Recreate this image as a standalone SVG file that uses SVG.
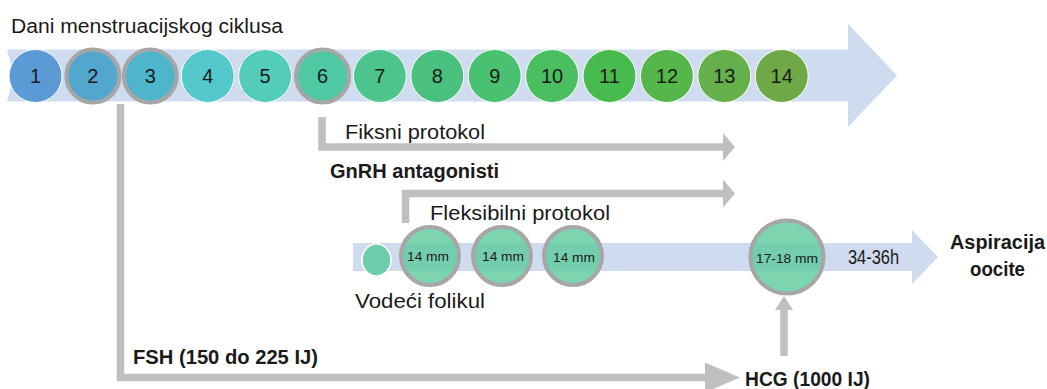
<svg xmlns="http://www.w3.org/2000/svg" width="1047" height="389" viewBox="0 0 1047 389">
<style>
  text { font-family: "Liberation Sans", Arial, sans-serif; fill: #1a1a1a; }
  .lbl { font-size: 20px; }
  .b { font-weight: bold; }
  .num { font-size: 20px; text-anchor: middle; }
  .mm { font-size: 13.5px; text-anchor: middle; }
  .band { fill: #CFDBEE; }
  .day { stroke: #ffffff; stroke-width: 1; }
  .ring { stroke: #A6A6A6; stroke-width: 4; }
  .fol { fill: #5CCB9C; fill-opacity: 0.8; stroke: #A6A6A6; stroke-width: 4; }
  .conn { fill: none; stroke: #BFBFBF; stroke-width: 7.5; }
</style>
<defs>
  <marker id="headS" markerUnits="userSpaceOnUse" viewBox="0 0 12 28" refX="0" refY="14" markerWidth="12" markerHeight="28" orient="auto">
    <path d="M0,0 L12,14 L0,28 z" fill="#BFBFBF"/>
  </marker>
  <marker id="headL" markerUnits="userSpaceOnUse" viewBox="0 0 35 30" refX="0" refY="15" markerWidth="35" markerHeight="30" orient="auto">
    <path d="M0,0 L35,15 L0,30 z" fill="#BFBFBF"/>
  </marker>
  <marker id="headU" markerUnits="userSpaceOnUse" viewBox="0 0 14 18" refX="0" refY="9" markerWidth="14" markerHeight="18" orient="auto">
    <path d="M0,0 L14,9 L0,18 z" fill="#BFBFBF"/>
  </marker>
</defs>

<g id="timeline-band">
  <polygon class="band" points="7,49.5 848,49.5 848,24 897,75.5 848,127 848,101.5 7,101.5 14,75.5"/>
</g>
<g id="follicle-band">
  <polygon class="band" points="353,243 912,243 912,230 938,257 912,284 912,271 353,271"/>
</g>

<g id="title">
  <text class="lbl" x="11" y="33" textLength="272" lengthAdjust="spacingAndGlyphs">Dani menstruacijskog ciklusa</text>
</g>

<g id="day1"><circle class="day" cx="35.5" cy="76" r="26.5" fill="#5B9BD5"/><text class="num" x="35.5" y="83">1</text></g>
<g id="day2"><circle class="ring" cx="92.9" cy="76" r="26.5" fill="#53A7CF"/><text class="num" x="92.9" y="83">2</text></g>
<g id="day3"><circle class="ring" cx="150.3" cy="76" r="26.5" fill="#4FB5CC"/><text class="num" x="150.3" y="83">3</text></g>
<g id="day4"><circle class="day" cx="207.7" cy="76" r="26.5" fill="#55C8CC"/><text class="num" x="207.7" y="83">4</text></g>
<g id="day5"><circle class="day" cx="265.1" cy="76" r="26.5" fill="#53CDB9"/><text class="num" x="265.1" y="83">5</text></g>
<g id="day6"><circle class="ring" cx="322.5" cy="76" r="26.5" fill="#4EC9A4"/><text class="num" x="322.5" y="83">6</text></g>
<g id="day7"><circle class="day" cx="379.9" cy="76" r="26.5" fill="#4EC48E"/><text class="num" x="379.9" y="83">7</text></g>
<g id="day8"><circle class="day" cx="437.3" cy="76" r="26.5" fill="#4BC17F"/><text class="num" x="437.3" y="83">8</text></g>
<g id="day9"><circle class="day" cx="494.7" cy="76" r="26.5" fill="#4AC071"/><text class="num" x="494.7" y="83">9</text></g>
<g id="day10"><circle class="day" cx="552.1" cy="76" r="26.5" fill="#4ABF61"/><text class="num" x="552.1" y="83">10</text></g>
<g id="day11"><circle class="day" cx="609.5" cy="76" r="26.5" fill="#47BB4E"/><text class="num" x="609.5" y="83">11</text></g>
<g id="day12"><circle class="day" cx="666.9" cy="76" r="26.5" fill="#55B649"/><text class="num" x="666.9" y="83">12</text></g>
<g id="day13"><circle class="day" cx="724.3" cy="76" r="26.5" fill="#65B04A"/><text class="num" x="724.3" y="83">13</text></g>
<g id="day14"><circle class="day" cx="781.7" cy="76" r="26.5" fill="#6FA846"/><text class="num" x="781.7" y="83">14</text></g>

<g id="connectors">
  <path class="conn" d="M120.5,104 V377.5 H705" marker-end="url(#headL)"/>
  <path class="conn" d="M322,117 V147 H723" marker-end="url(#headS)"/>
  <path class="conn" d="M405.5,223 V193.5 H723" marker-end="url(#headS)"/>
  <path class="conn" d="M784,356 V310" marker-end="url(#headU)"/>
</g>

<g id="fiksni-label">
  <text class="lbl" x="345" y="139" textLength="140" lengthAdjust="spacingAndGlyphs">Fiksni protokol</text>
</g>
<g id="gnrh-label">
  <text class="lbl b" x="330" y="178" textLength="169" lengthAdjust="spacingAndGlyphs">GnRH antagonisti</text>
</g>
<g id="fleksibilni-label">
  <text class="lbl" x="430" y="220" textLength="180" lengthAdjust="spacingAndGlyphs">Fleksibilni protokol</text>
</g>

<g id="vodeci-folikul">
  <ellipse cx="376.5" cy="260" rx="14.5" ry="16" fill="#6FCCAA" stroke="#ffffff" stroke-width="1.5"/>
  <text class="lbl" x="355" y="308" textLength="130" lengthAdjust="spacingAndGlyphs">Vodeći folikul</text>
</g>
<g id="fol14a"><circle class="fol" cx="430" cy="256" r="29"/><text class="mm" x="428" y="261" textLength="42" lengthAdjust="spacingAndGlyphs">14 mm</text></g>
<g id="fol14b"><circle class="fol" cx="502" cy="256" r="29"/><text class="mm" x="503" y="261" textLength="42" lengthAdjust="spacingAndGlyphs">14 mm</text></g>
<g id="fol14c"><circle class="fol" cx="573" cy="256" r="29"/><text class="mm" x="574" y="262" textLength="42" lengthAdjust="spacingAndGlyphs">14 mm</text></g>
<g id="fol17"><circle class="fol" cx="787" cy="257" r="36.5"/><text class="mm" x="787" y="263" textLength="62" lengthAdjust="spacingAndGlyphs">17-18 mm</text></g>

<g id="interval-label">
  <text class="lbl" x="848" y="264" textLength="51" lengthAdjust="spacingAndGlyphs">34-36h</text>
</g>
<g id="aspiracija">
  <text class="lbl b" x="950" y="249" textLength="95" lengthAdjust="spacingAndGlyphs">Aspiracija</text>
  <text class="lbl b" x="970" y="276" textLength="55" lengthAdjust="spacingAndGlyphs">oocite</text>
</g>
<g id="fsh-label">
  <text class="lbl b" x="133" y="364" textLength="185" lengthAdjust="spacingAndGlyphs">FSH (150 do 225 IJ)</text>
</g>
<g id="hcg-label">
  <text class="lbl b" x="745" y="386" textLength="125" lengthAdjust="spacingAndGlyphs">HCG (1000 IJ)</text>
</g>
</svg>
